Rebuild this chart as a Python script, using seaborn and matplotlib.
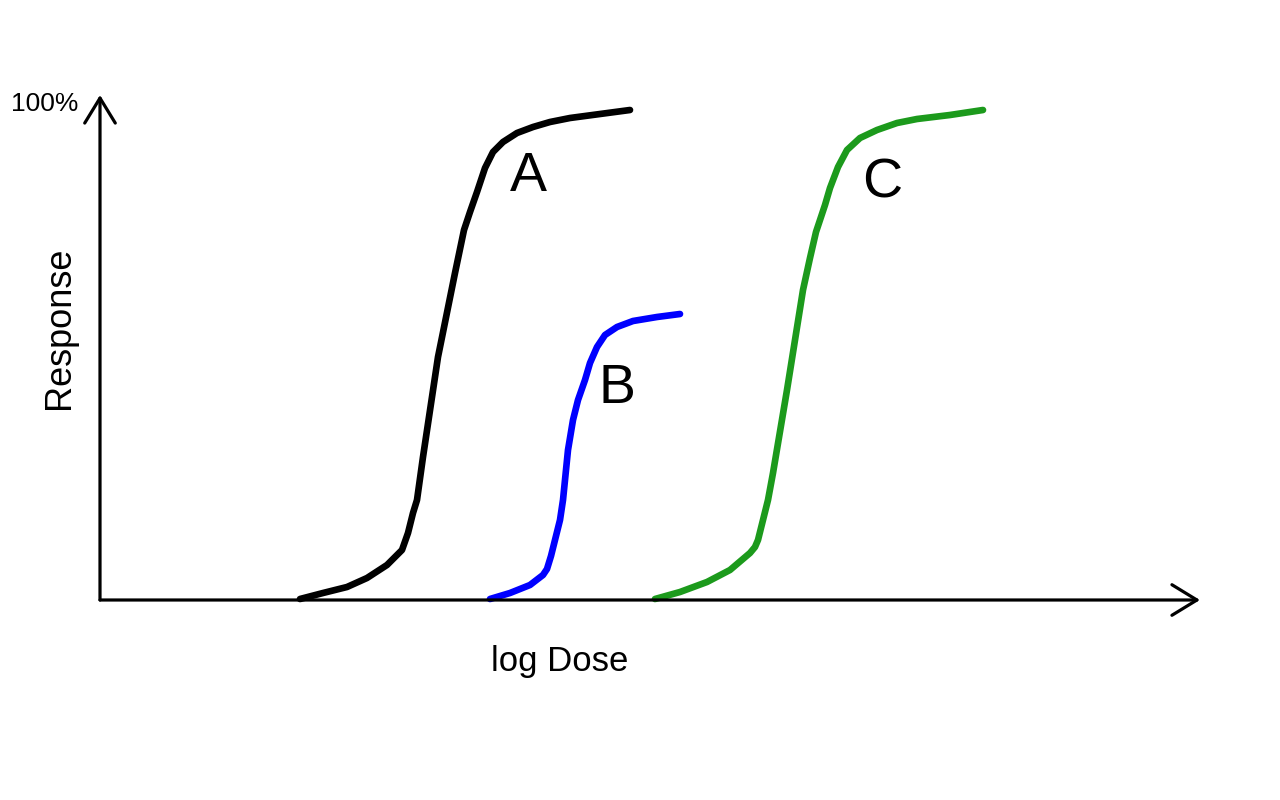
import numpy as np
import pandas as pd
import seaborn as sns
import matplotlib.pyplot as plt

# log dose (arbitrary units) and % response
dose_a = [2.00, 2.23, 2.47, 2.67, 2.87, 2.95, 3.02, 3.08, 3.13, 3.17, 3.23, 3.38, 3.55,
          3.64, 3.70, 3.77, 3.85, 3.93, 4.03, 4.17, 4.33, 4.50, 4.70, 5.00, 5.30]
resp_a = [0.2, 1.4, 2.6, 4.4, 7.0, 8.6, 10.0, 13.4, 17.4, 20.0, 28.6, 48.6, 65.4,
          74.0, 77.6, 81.6, 86.4, 89.6, 91.6, 93.4, 94.6, 95.6, 96.4, 97.2, 98.0]

dose_b = [3.90, 4.10, 4.30, 4.43, 4.47, 4.51, 4.55, 4.60, 4.63, 4.68, 4.73, 4.78,
          4.85, 4.90, 4.97, 5.05, 5.17, 5.33, 5.57, 5.80]
resp_b = [0.2, 1.4, 3.0, 5.0, 6.2, 8.8, 12.0, 16.0, 20.0, 30.0, 36.0, 40.0,
          44.0, 47.4, 50.6, 53.0, 54.6, 55.8, 56.6, 57.2]

dose_c = [5.55, 5.80, 6.07, 6.30, 6.50, 6.55, 6.58, 6.63, 6.68, 6.73, 6.87, 7.03, 7.10,
          7.16, 7.20, 7.25, 7.30, 7.38, 7.47, 7.60, 7.77, 7.97, 8.17, 8.50, 8.83]
resp_c = [0.2, 1.6, 3.6, 6.0, 9.4, 10.6, 12.0, 16.0, 20.0, 25.4, 42.0, 62.0, 68.4,
          73.6, 76.0, 79.0, 82.4, 86.6, 90.0, 92.4, 94.0, 95.4, 96.2, 97.0, 98.0]

curve_names = ['A', 'B', 'C']
curve_colors = ['#000000', '#0000ff', '#1c9a1c']
label_pos = {'A': (4.28, 84.6), 'B': (5.17, 42.2), 'C': (7.82, 83.2)}

df = pd.concat([
    pd.DataFrame({'dose': dose_a, 'response': resp_a, 'curve': 'A'}),
    pd.DataFrame({'dose': dose_b, 'response': resp_b, 'curve': 'B'}),
    pd.DataFrame({'dose': dose_c, 'response': resp_c, 'curve': 'C'}),
], ignore_index=True)

sns.set_theme(style='white')
plt.rcParams['font.family'] = ['Liberation Sans', 'DejaVu Sans']
plt.rcParams['text.color'] = 'black'

fig = plt.figure(figsize=(12.8, 8), dpi=100)
ax = fig.add_axes([0, 0, 1, 1])

# axes drawn as arrows
arrow = dict(arrowstyle='->,head_length=0.9,head_width=0.55', lw=2.3, color='black',
             shrinkA=0, shrinkB=0, mutation_scale=20)
ax.annotate('', xy=(11.0, 0), xytext=(0, 0), arrowprops=arrow)
ax.annotate('', xy=(0, 101), xytext=(0, 0), arrowprops=arrow)

sns.lineplot(data=df, x='dose', y='response', hue='curve', hue_order=curve_names,
             palette=curve_colors, sort=False, estimator=None, lw=4.8,
             legend=False, ax=ax, solid_capstyle='round', solid_joinstyle='round')

for name in curve_names:
    x, y = label_pos[name]
    ax.text(x, y, name, fontsize=40, ha='center', va='center', color='black')

ax.text(-0.55, 99.2, '100%', fontsize=19, ha='center', va='center', color='black')
ax.text(-0.4, 54.4, 'Response', fontsize=26, rotation=90, ha='center', va='center',
        color='black')
ax.text(4.6, -12.4, 'log Dose', fontsize=25, ha='center', va='center', color='black')

ax.set_xlim(-1.0, 11.8)
ax.set_ylim(-40, 120)
ax.axis('off')

fig.savefig('out.png', dpi=100, facecolor='white')
